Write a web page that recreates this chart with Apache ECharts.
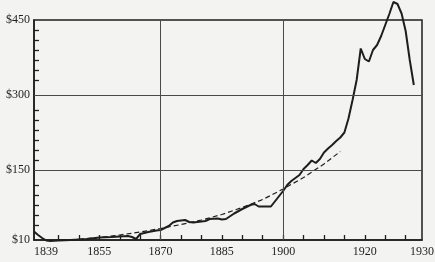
<!DOCTYPE html>
<html><head><meta charset="utf-8">
<script src="https://cdn.jsdelivr.net/npm/echarts@6/dist/echarts.min.js"></script>
<style>html,body{margin:0;padding:0;background:#f3f3f1}#c{width:435px;height:262px}</style>
</head><body><div id="c"></div>
<script>
// Solid line: values
const solidYears = [1839,1840,1841,1842,1843,1845,1848,1850,1852,1855,1858,1860,1862,1863,1864,1865,1867,1869,1870,1871,1872,1873,1874,1876,1877,1878,1879,1881,1882,1884,1885,1886,1888,1890,1892,1893,1894,1897,1900,1901,1902,1903,1904,1905,1906,1907,1908,1909,1910,1911,1912,1913,1914,1915,1916,1917,1918,1919,1920,1921,1922,1923,1924,1925,1926,1927,1928,1929,1930,1931,1932];
const solidValues = [27,20,14,9,8,9,10,11,12,15,16,17,18,16,12,22,26,29,30,34,38,45,48,50,46,45,46,48,52,53,51,52,63,72,80,82,77,77,108,120,128,134,140,152,160,169,164,172,185,193,200,208,215,225,253,290,330,393,372,367,390,400,418,440,462,486,482,463,428,370,320];
// Dashed trend line
const trendYears = [1848,1855,1860,1865,1870,1875,1880,1885,1890,1895,1900,1905,1910,1914];
const trendValues = [10,15,20,26,33,41,50,61,75,91,112,135,162,187];
// Axes
const yLabelValues = [10,150,300,450];
const yTickValues = [40,60,80,100,120,170,190,210,230,250,270,330,350,370,390,410,430];
const xTickYears = [1845,1850,1855,1860,1865,1870,1875,1880,1885,1890,1895,1900,1905,1910,1915,1920,1925,1930];
const xLabelYears = [1839,1855,1870,1885,1900,1920,1934];
const xLabelTexts = ['1839','1855','1870','1885','1900','1920','1930'];
const gridYValues = [150,300];
const gridXYears = [1870,1900];

const solidData = solidYears.map((y,i)=>[y,solidValues[i]]);
const trendData = trendYears.map((y,i)=>[y,trendValues[i]]);
const ink = '#1e1e1e';
const font = {fontFamily:'Liberation Serif', fontSize:12, color:'#1e1e1e'};

const chart = echarts.init(document.getElementById('c'), null, {renderer:'canvas'});
chart.setOption({
  animation:false,
  backgroundColor:'#f3f3f1',
  grid:{left:34,right:13,top:20,bottom:22,show:true,borderColor:ink,borderWidth:1.5,containLabel:false,outerBoundsMode:'none'},
  xAxis:{
    type:'value',min:1839,max:1934,
    axisLine:{show:true,lineStyle:{color:ink,width:1.5}},
    axisTick:{show:true,inside:true,length:5,customValues:xTickYears,lineStyle:{color:ink,width:1.3}},
    axisLabel:Object.assign({customValues:xLabelYears,margin:6,alignMinLabel:'left',
      formatter:v=>{const i=xLabelYears.indexOf(v);return i>=0?xLabelTexts[i]:'';}},font),
    splitLine:{show:false}
  },
  yAxis:{
    type:'value',min:10,max:450,
    axisLine:{show:true,lineStyle:{color:ink,width:1.5}},
    axisTick:{show:true,inside:true,length:5,customValues:yTickValues,lineStyle:{color:ink,width:1.3}},
    axisLabel:Object.assign({customValues:yLabelValues,margin:4,formatter:v=>'$'+v},font),
    splitLine:{show:false}
  },
  series:[
    {type:'line',data:trendData,showSymbol:false,clip:false,
     lineStyle:{color:ink,width:1.2,type:[5,3]},
     markLine:{silent:true,symbol:'none',label:{show:false},
       lineStyle:{color:'#4a4a4a',width:1,type:'solid'},
       data:gridYValues.map(v=>({yAxis:v})).concat(gridXYears.map(v=>({xAxis:v})))}},
    {type:'line',data:solidData,showSymbol:false,clip:false,z:3,
     lineStyle:{color:ink,width:2}}
  ]
});
</script></body></html>
